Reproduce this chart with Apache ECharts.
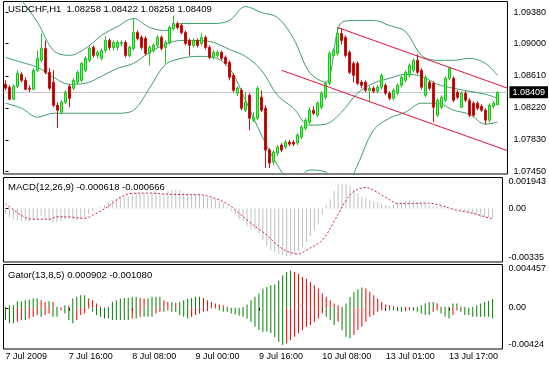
<!DOCTYPE html>
<html><head><meta charset="utf-8">
<script src="https://cdn.jsdelivr.net/npm/echarts@6/dist/echarts.min.js"></script>
<style>html,body{margin:0;padding:0;background:#fff}#c{width:549px;height:367px}</style>
</head><body><div id="c"></div>
<script>
// ---------- data ----------
const tickLabels = ['7 Jul 2009','7 Jul 16:00','8 Jul 08:00','9 Jul 00:00','9 Jul 16:00','10 Jul 08:00','13 Jul 01:00','13 Jul 17:00'];
const priceTicks = [1.09380,1.09000,1.08610,1.08220,1.07830,1.07450];
const lastPrice = 1.08409;
const mainTitle = 'USDCHF,H1  1.08258 1.08422 1.08258 1.08409';
const macdTitle = 'MACD(12,26,9) -0.000618 -0.000666';
const gatorTitle = 'Gator(13,8,5) 0.000902 -0.001080';
const macdRange = [-0.00335, 0.001943];
const gatorRange = [-0.00424, 0.004457];

const open = [1.08507,1.08471,1.08325,1.08483,1.08628,1.08555,1.08459,1.08446,1.08677,1.08798,
1.08943,1.08652,1.08531,1.08252,1.08168,1.08289,1.08483,1.08459,1.08531,1.08555,
1.08677,1.08798,1.08955,1.08858,1.08822,1.08919,1.09040,1.08955,1.08955,1.09004,
1.09016,1.08858,1.08943,1.09137,1.09077,1.09064,1.08883,1.08919,1.08980,1.09077,
1.08955,1.09016,1.09186,1.09246,1.09222,1.09137,1.09040,1.08980,1.09040,1.09004,
1.09077,1.08955,1.08834,1.08858,1.08895,1.08834,1.08774,1.08616,1.08398,1.08434,
1.08192,1.08374,1.08071,1.08095,1.08349,1.08216,1.07707,1.07562,1.07671,1.07768,
1.07743,1.07804,1.07804,1.07792,1.07865,1.07974,1.08046,1.08192,1.08131,1.08228,
1.08349,1.08519,1.08858,1.08883,1.09125,1.09077,1.08895,1.08761,1.08761,1.08531,
1.08531,1.08434,1.08459,1.08422,1.08471,1.08495,1.08398,1.08337,1.08398,1.08495,
1.08555,1.08616,1.08677,1.08798,1.08677,1.08374,1.08531,1.08519,1.08131,1.08228,
1.08313,1.08580,1.08580,1.08410,1.08228,1.08398,1.08313,1.08277,1.08277,1.08240,
1.08192,1.08071,1.08240,1.08258];
const high = [1.08555,1.08495,1.08507,1.08677,1.08652,1.08592,1.08495,1.08701,1.08919,1.09125,
1.09040,1.08701,1.08677,1.08289,1.08313,1.08434,1.08507,1.08580,1.08677,1.08774,
1.08846,1.08967,1.08980,1.08919,1.08943,1.09089,1.09064,1.09040,1.09040,1.09040,
1.09040,1.08980,1.09307,1.09161,1.09101,1.09089,1.08980,1.09004,1.09101,1.09101,
1.09040,1.09222,1.09343,1.09270,1.09246,1.09161,1.09064,1.09064,1.09064,1.09125,
1.09101,1.08980,1.08919,1.08919,1.08919,1.08858,1.08798,1.08640,1.08483,1.08459,
1.08410,1.08398,1.08168,1.08483,1.08434,1.08252,1.07731,1.07707,1.07768,1.07792,
1.07828,1.07828,1.07828,1.07913,1.08010,1.08095,1.08228,1.08240,1.08301,1.08422,
1.08543,1.08907,1.08943,1.09198,1.09186,1.09101,1.08919,1.08786,1.08786,1.08555,
1.08555,1.08483,1.08483,1.08495,1.08640,1.08519,1.08422,1.08459,1.08519,1.08616,
1.08677,1.08761,1.08822,1.08870,1.08701,1.08616,1.08555,1.08543,1.08337,1.08374,
1.08604,1.08725,1.08604,1.08434,1.08422,1.08422,1.08337,1.08301,1.08301,1.08265,
1.08216,1.08277,1.08301,1.08422];
const low = [1.08434,1.08313,1.08313,1.08459,1.08531,1.08434,1.08410,1.08434,1.08652,1.08774,
1.08628,1.08434,1.08228,1.07974,1.08143,1.08265,1.08228,1.08434,1.08507,1.08531,
1.08652,1.08774,1.08834,1.08822,1.08798,1.08895,1.08919,1.08919,1.08919,1.08967,
1.08834,1.08834,1.08919,1.09040,1.08931,1.08858,1.08737,1.08895,1.08955,1.08919,
1.08761,1.08992,1.09161,1.09173,1.09113,1.08980,1.08858,1.08955,1.08955,1.08980,
1.08931,1.08810,1.08810,1.08834,1.08798,1.08737,1.08555,1.08410,1.08362,1.08192,
1.08168,1.07949,1.08046,1.08071,1.08168,1.07489,1.07489,1.07525,1.07634,1.07683,
1.07719,1.07755,1.07755,1.07768,1.07840,1.07949,1.08022,1.08131,1.08107,1.08204,
1.08325,1.08495,1.08834,1.08858,1.08992,1.08834,1.08628,1.08531,1.08495,1.08459,
1.08410,1.08301,1.08398,1.08398,1.08446,1.08374,1.08313,1.08313,1.08374,1.08471,
1.08531,1.08592,1.08652,1.08628,1.08446,1.08349,1.08434,1.08046,1.08107,1.08204,
1.08289,1.08555,1.08289,1.08325,1.08216,1.08289,1.08107,1.08107,1.08192,1.08168,
1.08022,1.08046,1.08216,1.08258];
const close = [1.08459,1.08325,1.08483,1.08640,1.08555,1.08446,1.08446,1.08677,1.08822,1.08943,
1.08652,1.08459,1.08252,1.08192,1.08289,1.08410,1.08337,1.08555,1.08652,1.08761,
1.08822,1.08943,1.08858,1.08895,1.08919,1.09040,1.08955,1.09016,1.09016,1.09016,
1.08858,1.08955,1.09137,1.09064,1.08955,1.08883,1.08955,1.08980,1.09077,1.08943,
1.09016,1.09198,1.09246,1.09198,1.09137,1.09004,1.08980,1.09040,1.08980,1.09077,
1.08955,1.08834,1.08895,1.08895,1.08822,1.08761,1.08592,1.08434,1.08459,1.08216,
1.08289,1.08095,1.08107,1.08459,1.08192,1.07707,1.07549,1.07683,1.07743,1.07707,
1.07804,1.07780,1.07780,1.07889,1.07986,1.08071,1.08192,1.08155,1.08277,1.08398,
1.08519,1.08883,1.08919,1.09125,1.09040,1.08858,1.08652,1.08616,1.08519,1.08495,
1.08434,1.08459,1.08422,1.08471,1.08616,1.08398,1.08337,1.08434,1.08495,1.08592,
1.08652,1.08737,1.08798,1.08652,1.08471,1.08592,1.08459,1.08228,1.08313,1.08349,
1.08580,1.08701,1.08313,1.08349,1.08398,1.08313,1.08131,1.08131,1.08216,1.08192,
1.08071,1.08252,1.08277,1.08409];

// Bollinger bands, read at every 4th bar
const bbIndex  = [0,4,8,12,16,20,24,28,32,36,40,44,48,52,56,60,64,68,72,76,80,84,88,92,96,100,104,108,112,116,120,123];
const bbUpper  = [1.09707,1.09525,1.09258,1.08919,1.08858,1.08943,1.09101,1.09210,1.09307,1.09198,1.09161,1.09246,1.09246,1.09246,1.09283,1.09452,1.09380,1.09319,1.09064,1.08652,1.08531,1.09258,1.09283,1.09283,1.09222,1.09149,1.08858,1.08798,1.08798,1.08822,1.08761,1.08616];
const bbMiddle = [1.08834,1.08774,1.08713,1.08592,1.08507,1.08519,1.08604,1.08701,1.08761,1.08895,1.08992,1.09040,1.09040,1.09016,1.08931,1.08846,1.08677,1.08374,1.08216,1.08010,1.08022,1.08168,1.08398,1.08519,1.08580,1.08628,1.08604,1.08507,1.08459,1.08422,1.08386,1.08337];
const bbLower  = [1.08277,1.08216,1.08107,1.08155,1.08155,1.08155,1.08155,1.08155,1.08192,1.08459,1.08749,1.08822,1.08846,1.08834,1.08701,1.08313,1.07889,1.07525,1.07283,1.07465,1.07440,1.07162,1.07525,1.07949,1.08095,1.08168,1.08277,1.08277,1.08192,1.08143,1.08022,1.08046];

// price channel (bar index, price)
const channelUpper = [[83, 1.09198], [125.5, 1.08460]];
const channelLower = [[69, 1.08677], [125.5, 1.07700]];

const macdMain = [-0.000361,-0.000548,-0.000673,-0.000735,-0.000797,-0.000797,-0.000797,-0.000735,-0.00061,-0.000486,
-0.00061,-0.000735,-0.00086,-0.00086,-0.000797,-0.000673,-0.00061,-0.000673,-0.000735,-0.000673,
-0.000548,-0.000361,-0.000174,-0.00005,0.000075,0.0002,0.000386,0.000511,0.000635,0.000698,
0.000698,0.00076,0.000947,0.001009,0.001009,0.000947,0.000885,0.000947,0.001009,0.000947,
0.000947,0.001072,0.001196,0.001196,0.001134,0.001009,0.000947,0.000885,0.000885,0.000885,
0.000822,0.000698,0.000635,0.000573,0.000449,0.000324,0.000137,-0.000174,-0.000361,-0.000673,
-0.000797,-0.001109,-0.001296,-0.001296,-0.001545,-0.001981,-0.002355,-0.002604,-0.002729,-0.002853,
-0.002916,-0.002978,-0.002978,-0.002853,-0.002666,-0.002417,-0.002106,-0.001732,-0.001358,-0.000984,
-0.000361,0.0002,0.000573,0.001134,0.001508,0.00157,0.00157,0.001445,0.001196,0.000947,
0.00076,0.000635,0.000511,0.000449,0.000386,0.000262,0.0002,0.000137,0.0002,0.000324,
0.000386,0.000449,0.000511,0.000449,0.000386,0.000324,0.000324,0.0002,0.000137,0.000137,
0.0002,0.000137,0.000012,-0.00005,-0.00005,-0.000112,-0.000237,-0.000299,-0.000361,-0.000424,
-0.000548,-0.000548,-0.000548,-0.000618];
const macdSignalIdx = [0,4,7,11,13,16,20,22,26,29,32,36,42,49,52,56,59,62,66,69,71,74,76,80,83,86,88,91,93,96,99,102,106,110,113,118,123];
const macdSignal = [0.000305,-0.000424,-0.000673,-0.000673,-0.000517,-0.00053,-0.00061,-0.000424,0.000137,0.000698,0.000947,0.000966,0.000885,0.000866,0.000716,0.000293,-0.000299,-0.000922,-0.00167,-0.002355,-0.002666,-0.002853,-0.002604,-0.001981,-0.000797,0.000511,0.001072,0.001321,0.001134,0.000698,0.000324,0.000305,0.000343,0.000199,-0.00005,-0.000299,-0.000666];

const gatorUp = [0.0001,0.00027,0.00027,0.00068,0.00068,0.00078,0.00085,0.00095,0.00095,0.00078,
0.00061,0.00068,0.00061,0.0001,0.00003,0.00027,0.0002,0.00095,0.00113,0.0013,
0.0013,0.00095,0.00078,0.00044,0.0001,0.00002,0.0001,0.00061,0.00078,0.00095,
0.00102,0.00102,0.00113,0.00113,0.00102,0.00095,0.00095,0.00113,0.00113,0.00113,
0.00078,0.00061,0.00061,0.00051,0.00061,0.00078,0.00095,0.00102,0.00113,0.00113,
0.00102,0.00078,0.00061,0.00044,0.00034,0.00027,0.0001,0.00001,0.00001,0.00001,
0.0001,0.00034,0.00078,0.00113,0.00147,0.00198,0.00215,0.00232,0.0024,0.0028,
0.00334,0.00368,0.00385,0.00368,0.00351,0.00317,0.003,0.00266,0.00232,0.00198,
0.00147,0.00113,0.00078,0.00044,0.00027,0.0001,0.00044,0.0011,0.0016,0.0019,
0.0021,0.00198,0.00164,0.0013,0.00095,0.00061,0.00034,0.00027,0.00017,0.0001,
0.0001,0.0001,0.00007,0.00007,0.0001,0.00027,0.00044,0.00061,0.00061,0.00044,
0.0001,0.0001,0.0001,0.00044,0.00044,0.0001,0.0001,0.00003,0.0001,0.00027,
0.00044,0.00061,0.00072,0.000902];
const gatorDown = [-0.00126,-0.0016,-0.0016,-0.00143,-0.00126,-0.00126,-0.00109,-0.00092,-0.00075,-0.00092,
-0.00075,-0.00058,-0.00092,-0.00092,-0.00024,-0.00058,-0.00126,-0.0016,-0.00126,-0.00075,
-0.00058,-0.00007,-0.00041,-0.00075,-0.00092,-0.00109,-0.00109,-0.00126,-0.00126,-0.00126,
-0.00126,-0.00126,-0.00109,-0.00109,-0.00092,-0.00092,-0.00092,-0.00092,-0.00058,-0.00041,
-0.00041,-0.00024,-0.00041,-0.00041,-0.00075,-0.00092,-0.00109,-0.00092,-0.00075,-0.00058,
-0.00041,-0.00034,-0.00007,-0.00007,-0.00024,-0.00041,-0.00041,-0.00058,-0.00068,-0.00082,
-0.00092,-0.00109,-0.00143,-0.00194,-0.00228,-0.00246,-0.00246,-0.0026,-0.003,-0.0035,
-0.00382,-0.00365,-0.00331,-0.00297,-0.00263,-0.00228,-0.00194,-0.00177,-0.00143,-0.00109,
-0.00058,-0.00092,-0.00126,-0.00177,-0.00143,-0.00228,-0.00297,-0.00314,-0.0028,-0.00228,
-0.00194,-0.00143,-0.00092,-0.00075,-0.00041,-0.00024,-0.00007,-0.00024,-0.00024,-0.00034,
-0.00041,-0.00034,-0.00024,-0.00034,-0.00041,-0.00058,-0.00075,-0.00075,-0.00041,-0.00024,
-0.00058,-0.00092,-0.00109,-0.00075,-0.00024,-0.00041,-0.00075,-0.00075,-0.00092,-0.00092,
-0.00092,-0.00092,-0.00092,-0.00108];

// ---------- chart ----------
const N_SLOTS = open.length + 2;            // two empty slots of chart shift on the right
const X_MAX = N_SLOTS - 0.5;
const categories = Array.from({length: N_SLOTS}, (_, i) => 'bar' + i);
const FONT = '"Liberation Sans", Arial, sans-serif';
const GL = 3.5, GW = 504;
const GREEN = '#008000', RED = '#ee0000';

function gatorColor(arr) {
  return arr.map((v, i) => ({
    value: v,
    itemStyle: { color: (i === 0 || Math.abs(v) >= Math.abs(arr[i - 1])) ? GREEN : RED }
  }));
}
const pair = (idx, vals) => idx.map((x, k) => [x, vals[k]]);

const labelBase = { fontFamily: FONT, fontSize: 9, color: '#000' };
const titleStyle = { fontFamily: FONT, fontSize: 9.5, color: '#000', fontWeight: 'normal' };
function sideAxis(grid, range, values, text, vAlign, withTick) {
  return {
    type: 'value', gridIndex: grid, position: 'right', min: range[0], max: range[1],
    splitLine: { show: false }, axisLine: { show: false },
    axisTick: { show: withTick, customValues: values, length: 3, lineStyle: { color: '#000' } },
    axisLabel: Object.assign({ customValues: values, margin: 6, verticalAlign: vAlign,
      formatter: (v) => text(v) }, labelBase)
  };
}

const chart = echarts.init(document.getElementById('c'), null, { renderer: 'canvas' });
chart.setOption({
  animation: false,
  backgroundColor: '#ffffff',
  textStyle: { fontFamily: FONT },
  title: [
    { text: mainTitle, left: 8, top: 4, padding: 0, textStyle: titleStyle },
    { text: macdTitle, left: 8, top: 182, padding: 0, textStyle: titleStyle },
    { text: gatorTitle, left: 8, top: 270, padding: 0, textStyle: titleStyle }
  ],
  grid: [
    { left: GL, width: GW, top: 1.5, height: 172.5, show: true, borderColor: '#000', borderWidth: 1, backgroundColor: '#fff' },
    { left: GL, width: GW, top: 177.5, height: 84.5, show: true, borderColor: '#000', borderWidth: 1, backgroundColor: '#fff' },
    { left: GL, width: GW, top: 264.5, height: 84.5, show: true, borderColor: '#000', borderWidth: 1, backgroundColor: '#fff' }
  ],
  xAxis: [
    { type: 'category', gridIndex: 0, data: categories, show: false },
    { type: 'value', gridIndex: 0, min: -0.5, max: X_MAX, show: false },
    { type: 'category', gridIndex: 1, data: categories, show: false },
    { type: 'value', gridIndex: 1, min: -0.5, max: X_MAX, show: false },
    { type: 'category', gridIndex: 2, data: categories, axisLine: { show: false },
      axisTick: { show: true, interval: 15, alignWithLabel: true, length: 3, lineStyle: { color: '#000' } },
      axisLabel: Object.assign({ interval: 15, align: 'left', margin: 3,
        formatter: (v, i) => tickLabels[i / 16] || '' }, labelBase) },
    { type: 'value', gridIndex: 2, min: -0.5, max: X_MAX, show: false }
  ],
  yAxis: [
    sideAxis(0, [1.074164, 1.095133], priceTicks, v => v.toFixed(5), 'middle', true),
    sideAxis(1, macdRange, [0], () => '0.00', 'middle', true),
    sideAxis(1, macdRange, [macdRange[1]], () => '0.001943', 'top', false),
    sideAxis(1, macdRange, [macdRange[0]], () => '-0.00335', 'bottom', false),
    sideAxis(2, gatorRange, [0], () => '0.00', 'middle', true),
    sideAxis(2, gatorRange, [gatorRange[1]], () => '0.004457', 'top', false),
    sideAxis(2, gatorRange, [gatorRange[0]], () => '-0.00424', 'bottom', false)
  ],
  series: [
    // current price line with its black price tag
    { type: 'line', xAxisIndex: 1, yAxisIndex: 0, data: [[-0.5, lastPrice], [X_MAX, lastPrice]], symbol: 'none', clip: false,
      lineStyle: { color: '#c0c0c0', width: 1 }, z: 1,
      endLabel: { show: true, distance: 2, formatter: () => lastPrice.toFixed(5), color: '#fff', backgroundColor: '#000',
        padding: [2, 3, 1, 3], fontFamily: FONT, fontSize: 9 } },
    { type: 'line', xAxisIndex: 1, yAxisIndex: 0, data: pair(bbIndex, bbUpper), smooth: 0.35, symbol: 'none', clip: true, lineStyle: { color: '#3c9d6a', width: 1 }, z: 2 },
    { type: 'line', xAxisIndex: 1, yAxisIndex: 0, data: pair(bbIndex, bbMiddle), smooth: 0.35, symbol: 'none', clip: true, lineStyle: { color: '#3c9d6a', width: 1 }, z: 2 },
    { type: 'line', xAxisIndex: 1, yAxisIndex: 0, data: pair(bbIndex, bbLower), smooth: 0.35, symbol: 'none', clip: true, lineStyle: { color: '#3c9d6a', width: 1 }, z: 2 },
    { type: 'candlestick', xAxisIndex: 0, yAxisIndex: 0, barWidth: 2, z: 3,
      data: open.map((o, i) => [o, close[i], low[i], high[i]]),
      itemStyle: { color: '#55ff55', borderColor: '#1fbf1f', color0: '#a00000', borderColor0: '#d01010', borderWidth: 1 } },
    { type: 'line', xAxisIndex: 1, yAxisIndex: 0, data: channelUpper, symbol: 'none', clip: true, lineStyle: { color: '#e0103a', width: 1 }, z: 4 },
    { type: 'line', xAxisIndex: 1, yAxisIndex: 0, data: channelLower, symbol: 'none', clip: true, lineStyle: { color: '#e0103a', width: 1 }, z: 4 },
    { type: 'bar', xAxisIndex: 2, yAxisIndex: 1, data: macdMain, barWidth: 1, itemStyle: { color: '#c0c0c0' } },
    { type: 'line', xAxisIndex: 3, yAxisIndex: 1, data: pair(macdSignalIdx, macdSignal), smooth: 0.35, symbol: 'none', lineStyle: { color: '#d42040', width: 1, type: [2, 2] }, z: 4 },
    { type: 'bar', xAxisIndex: 4, yAxisIndex: 4, data: gatorColor(gatorUp), barWidth: 1, barGap: '-100%' },
    { type: 'bar', xAxisIndex: 4, yAxisIndex: 4, data: gatorColor(gatorDown), barWidth: 1, barGap: '-100%' }
  ]
});
</script>
</body></html>
